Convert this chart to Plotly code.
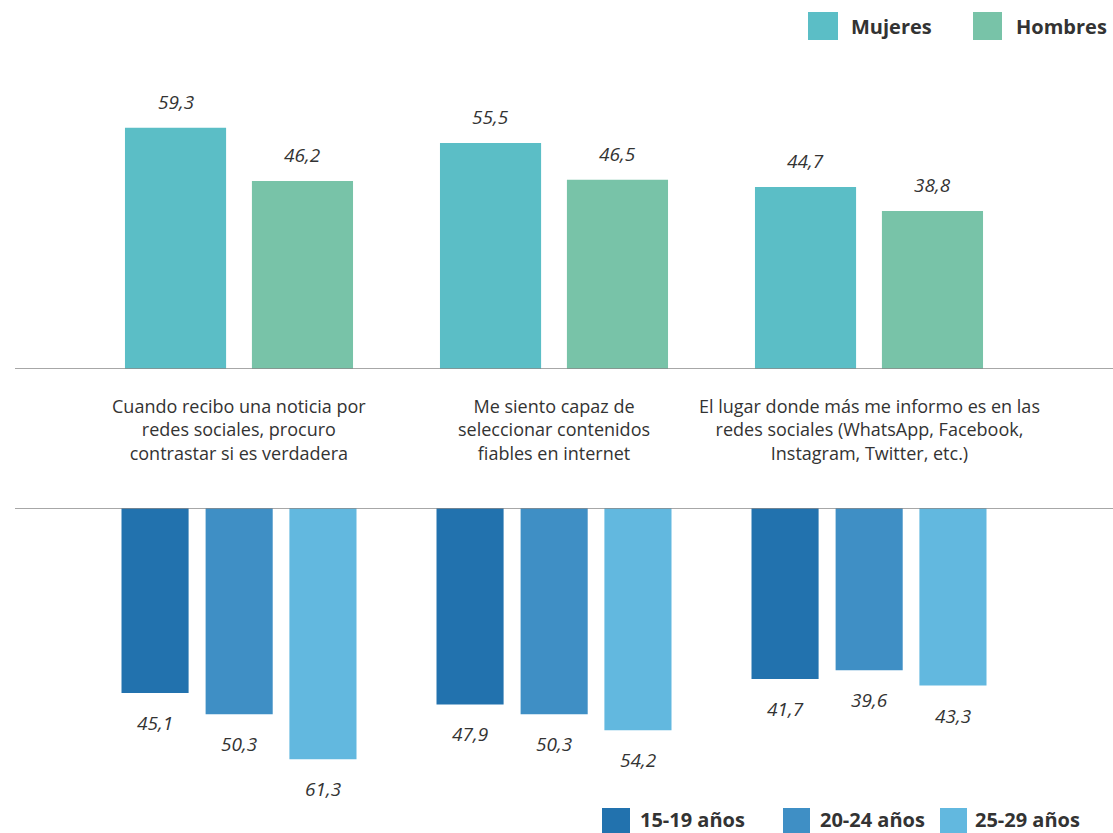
import plotly.graph_objects as go

# ---- data ----
categories = [
    "Cuando recibo una noticia por<br>redes sociales, procuro<br>contrastar si es verdadera",
    "Me siento capaz de<br>seleccionar contenidos<br>fiables en internet",
    "El lugar donde más me informo es en las<br>redes sociales (WhatsApp, Facebook,<br>Instagram, Twitter, etc.)",
]
sex_series = ["Mujeres", "Hombres"]
mujeres = [59.3, 55.5, 44.7]
hombres = [46.2, 46.5, 38.8]
age_series = ["15-19 años", "20-24 años", "25-29 años"]
edad_15_19 = [45.1, 47.9, 41.7]
edad_20_24 = [50.3, 50.3, 39.6]
edad_25_29 = [61.3, 54.2, 43.3]

# ---- style ----
W, H = 1113, 833
FONT = "Open Sans"
TXT = "#333333"
sex_colors = ["#5bbec6", "#78c3a8"]
age_colors = ["#2272ae", "#3f8fc5", "#62b8df"]
top_offsets = [-0.362, 0.041]
top_width = 0.321
bot_offsets = [-0.373, -0.106, 0.160]
bot_width = 0.213

def fmt(v):
    return f"{v:.1f}".replace(".", ",")

def px_x(p):
    return p / W

def px_y(p):
    return 1 - p / H

xs = list(range(len(categories)))
fig = go.Figure()
annotations = []

for name, vals, col, off in zip(sex_series, [mujeres, hombres], sex_colors, top_offsets):
    fig.add_trace(go.Bar(x=xs, y=vals, name=name, marker_color=col, marker_line_width=0,
                         offset=off, width=top_width, xaxis="x", yaxis="y", showlegend=False,
                         hovertemplate=name + ": %{y}<extra></extra>"))
    for x, v in zip(xs, vals):
        annotations.append(dict(x=x + off + top_width / 2, y=v, xref="x", yref="y", text=fmt(v),
                                showarrow=False, yshift=26, yanchor="middle",
                                font=dict(family=FONT, size=19, color=TXT, style="italic")))

for name, vals, col, off in zip(age_series, [edad_15_19, edad_20_24, edad_25_29], age_colors, bot_offsets):
    fig.add_trace(go.Bar(x=xs, y=vals, name=name, marker_color=col, marker_line_width=0,
                         offset=off, width=bot_width, xaxis="x2", yaxis="y2", showlegend=False,
                         hovertemplate=name + ": %{y}<extra></extra>"))
    for x, v in zip(xs, vals):
        annotations.append(dict(x=x + off + bot_width / 2, y=v, xref="x2", yref="y2", text=fmt(v),
                                showarrow=False, yshift=-30, yanchor="middle",
                                font=dict(family=FONT, size=19, color=TXT, style="italic")))

# category labels between the panels
for x, c in zip(xs, categories):
    annotations.append(dict(x=x, y=px_y(429), xref="x", yref="paper", text=c, showarrow=False,
                            align="center", yanchor="middle",
                            font=dict(family=FONT, size=18, color=TXT)))

shapes = [
    dict(type="line", xref="paper", yref="y", x0=px_x(15), x1=1, y0=0, y1=0,
         line=dict(color="#8a8a8a", width=1.5)),
    dict(type="line", xref="paper", yref="y2", x0=px_x(15), x1=1, y0=0, y1=0,
         line=dict(color="#8a8a8a", width=1.5)),
]

# manual legends (large swatches)
top_leg = [(808, 838, 849), (973, 1002, 1014)]
for (s0, s1, tx), name, col in zip(top_leg, sex_series, sex_colors):
    shapes.append(dict(type="rect", xref="paper", yref="paper", x0=px_x(s0), x1=px_x(s1),
                       y0=px_y(40), y1=px_y(12), fillcolor=col, line_width=0))
    annotations.append(dict(x=px_x(tx), y=px_y(26), xref="paper", yref="paper", text=f"<b>{name}</b>",
                            showarrow=False, xanchor="left", yanchor="middle",
                            font=dict(family=FONT, size=20, color=TXT)))
bot_leg = [(602, 630, 638), (783, 810, 818), (940, 967, 973)]
for (s0, s1, tx), name, col in zip(bot_leg, age_series, age_colors):
    shapes.append(dict(type="rect", xref="paper", yref="paper", x0=px_x(s0), x1=px_x(s1),
                       y0=px_y(836), y1=px_y(808), fillcolor=col, line_width=0))
    annotations.append(dict(x=px_x(tx), y=px_y(819), xref="paper", yref="paper", text=f"<b>{name}</b>",
                            showarrow=False, xanchor="left", yanchor="middle",
                            font=dict(family=FONT, size=20, color=TXT)))

xr = [-0.5 - 81.5 / 315, 2.5 + (W - 1026.5) / 315]
fig.update_layout(
    width=W, height=H, margin=dict(l=0, r=0, t=0, b=0),
    paper_bgcolor="white", plot_bgcolor="white", barmode="overlay",
    xaxis=dict(range=xr, visible=False, anchor="y"),
    xaxis2=dict(range=xr, visible=False, anchor="y2", matches="x"),
    yaxis=dict(domain=[px_y(369), 1], range=[0, 369 / 4.07], visible=False),
    yaxis2=dict(domain=[0, px_y(508)], range=[(H - 508) / 4.1, 0], visible=False),
    shapes=shapes, annotations=annotations, showlegend=False,
    font=dict(family=FONT, color=TXT),
)
fig.write_html("out.html", config={"displayModeBar": False},
               post_script="document.body.style.margin='0';document.body.style.overflow='hidden';")
